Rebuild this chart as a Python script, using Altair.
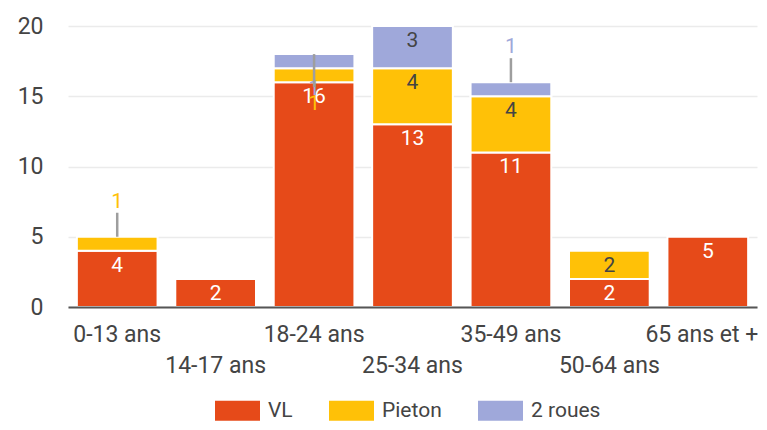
import altair as alt
import pandas as pd

categories = ["0-13 ans", "14-17 ans", "18-24 ans", "25-34 ans", "35-49 ans", "50-64 ans", "65 ans et +"]
series = ["VL", "Pieton", "2 roues"]
vl = [4, 2, 16, 13, 11, 2, 5]
pieton = [1, 0, 1, 4, 4, 2, 0]
roues = [0, 0, 1, 3, 1, 0, 0]
colors = ["#E64A19", "#FFC107", "#9FA8DA"]
flipped_cats = ["18-24 ans"]  # small labels drawn downward in the reference

values = {"VL": vl, "Pieton": pieton, "2 roues": roues}
rows = []
for i, c in enumerate(categories):
    base = 0
    total = sum(values[s][i] for s in series)
    for k, s in enumerate(series):
        v = values[s][i]
        rows.append({"cat": c, "series": s, "value": v, "ord": k,
                     "y0": base, "y1": base + v, "total": total})
        base += v
df = pd.DataFrame(rows)

FONT = "Roboto"
AX = 23
LAB = 21
stagger = categories[1::2]
stagger_expr = "indexof([" + ",".join("'%s'" % c for c in stagger) + "], datum.value) >= 0 ? ['', datum.value] : datum.value"
last_cat = categories[-1]

xenc = alt.X("cat:N", sort=categories, title=None,
             scale=alt.Scale(paddingInner=0.18, paddingOuter=0.09),
             axis=alt.Axis(labelAngle=0, labelFontSize=AX, labelColor="#444", labelFont=FONT,
                           labelPadding=16, labelLineHeight=31, labelExpr=stagger_expr,
                           labelOffset={"condition": {"test": "datum.value == '%s'" % last_cat, "value": -6}, "value": 0},
                           ticks=False, domainColor="#555", domainWidth=2, zindex=1,
                           labelOverlap=False))
yscale = alt.Scale(domain=[0, 20], nice=False)
colorscale = alt.Scale(domain=series, range=colors)

base = alt.Chart(df)

bars = base.transform_filter("datum.value > 0").mark_bar(stroke="white", strokeWidth=2).encode(
    x=xenc,
    y=alt.Y("y0:Q", scale=yscale, title=None,
            axis=alt.Axis(values=[0, 2.5, 5, 7.5, 10, 12.5, 15, 17.5, 20],
                          labelExpr="datum.value % 5 == 0 ? datum.label : ''",
                          labelFontSize=AX, labelColor="#444", labelFont=FONT, labelPadding=25,
                          ticks=False, domain=False, gridColor="#ebebeb", gridWidth=1.5)),
    y2="y1:Q",
    color=alt.Color("series:N", scale=colorscale, sort=series, title=None,
                    legend=alt.Legend(orient="none", legendX=147, legendY=362, direction="horizontal",
                                      symbolType="M-1,-0.44L1,-0.44L1,0.44L-1,0.44Z",
                                      symbolSize=2025, symbolStrokeWidth=0, symbolOpacity=1,
                                      labelFontSize=LAB, labelColor="#444", labelFont=FONT,
                                      labelOffset=8, columnPadding=36)),
)

inside_white = base.transform_filter("datum.value > 1 && datum.series == 'VL'").mark_text(
    fontSize=LAB, font=FONT, color="white", baseline="middle", dy=15).encode(
    x=alt.X("cat:N", sort=categories), y=alt.Y("y1:Q", scale=yscale), text="value:Q")

inside_dark = base.transform_filter("datum.value > 1 && datum.series != 'VL'").mark_text(
    fontSize=LAB, font=FONT, color="#444", baseline="middle", dy=15).encode(
    x=alt.X("cat:N", sort=categories), y=alt.Y("y1:Q", scale=yscale), text="value:Q")

flip_list = "[" + ",".join("'%s'" % c for c in flipped_cats) + "]"
up_filter = "datum.value == 1 && indexof(%s, datum.cat) < 0" % flip_list
down_filter = "datum.value == 1 && indexof(%s, datum.cat) >= 0" % flip_list

rule_up = base.transform_filter(up_filter).mark_rule(color="#9e9e9e", strokeWidth=2.5, y2Offset=-24).encode(
    x=alt.X("cat:N", sort=categories), y=alt.Y("total:Q", scale=yscale), y2="total:Q")
text_up = base.transform_filter(up_filter).mark_text(fontSize=LAB, font=FONT, baseline="middle", dy=-35).encode(
    x=alt.X("cat:N", sort=categories), y=alt.Y("total:Q", scale=yscale), text="value:Q",
    color=alt.Color("series:N", scale=colorscale, legend=None))

text_down_roues = base.transform_filter(down_filter + " && datum.series == '2 roues'").mark_text(
    fontSize=LAB, font=FONT, baseline="middle", dy=35).encode(
    x=alt.X("cat:N", sort=categories), y=alt.Y("total:Q", scale=yscale), text="value:Q",
    color=alt.Color("series:N", scale=colorscale, legend=None))
text_down_pieton = base.transform_filter(down_filter + " && datum.series == 'Pieton'").mark_text(
    fontSize=LAB, font=FONT, baseline="middle", dy=50).encode(
    x=alt.X("cat:N", sort=categories), y=alt.Y("total:Q", scale=yscale), text="value:Q",
    color=alt.Color("series:N", scale=colorscale, legend=None))
rule_down = base.transform_filter(down_filter + " && datum.series == '2 roues'").mark_rule(
    color="#9e9e9e", strokeWidth=2.5, y2Offset=33).encode(
    x=alt.X("cat:N", sort=categories), y=alt.Y("total:Q", scale=yscale), y2="total:Q")

chart = alt.layer(bars, inside_white, inside_dark, text_up, rule_up,
                  text_down_roues, text_down_pieton, rule_down).properties(
    width=689, height=281,
    padding={"left": 60, "top": 18, "right": 2, "bottom": 115},
    autosize="none",
).configure_view(stroke=None)

chart.save("out.html", embed_options={"renderer": "svg", "actions": False})
